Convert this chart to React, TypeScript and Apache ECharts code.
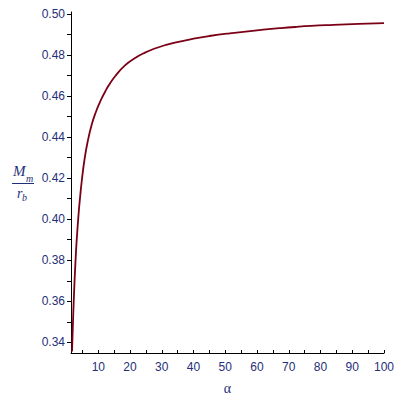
import React, { useEffect, useRef } from "react";
import * as echarts from "echarts";

const alphaValues = [1.73, 1.95, 2.36, 2.77, 3.2, 3.84, 4.25, 4.78, 5.6, 6.67, 8.0, 9.3, 10.3, 11.1, 12.2, 13.2, 15.3, 18.4, 21.6, 24.7, 27.8, 31, 34.1, 40, 45, 51.4, 61.9, 67, 72, 77, 84, 92, 100];
const ratioValues = [0.3355, 0.3466, 0.364, 0.378, 0.39, 0.4035, 0.4105, 0.4185, 0.4285, 0.438, 0.4465, 0.4525, 0.4563, 0.459, 0.4623, 0.465, 0.4697, 0.475, 0.4786, 0.4812, 0.4832, 0.4848, 0.4861, 0.488, 0.4893, 0.4906, 0.4924, 0.4931, 0.4937, 0.4942, 0.4947, 0.4952, 0.4956];

const xTickLabels = [10, 20, 30, 40, 50, 60, 70, 80, 90, 100];
const xTicks = [5, 10, 15, 20, 25, 30, 35, 40, 45, 50, 55, 60, 65, 70, 75, 80, 85, 90, 95, 100];
const yTickLabels = [0.34, 0.36, 0.38, 0.4, 0.42, 0.44, 0.46, 0.48, 0.5];
const yTicks = [0.34, 0.35, 0.36, 0.37, 0.38, 0.39, 0.4, 0.41, 0.42, 0.43, 0.44, 0.45, 0.46, 0.47, 0.48, 0.49, 0.5];

const labelColor = "#1f2f78";
const curveColor = "#7a0016";

export default function App() {
  const ref = useRef<HTMLDivElement>(null);
  useEffect(() => {
    if (!ref.current) return;
    const chart = echarts.init(ref.current, undefined, { renderer: "svg" });
    const data = alphaValues.map((a, i) => [a, ratioValues[i]]);
    chart.setOption({
      animation: false,
      backgroundColor: "#ffffff",
      grid: { left: 71, right: 16, top: 12, bottom: 42, containLabel: false },
      xAxis: {
        type: "value",
        min: 1.4,
        max: 100,
        splitLine: { show: false },
        axisLine: { show: true, onZero: false, lineStyle: { color: "#000", width: 1 } },
        axisTick: { show: true, inside: true, length: 3, customValues: xTicks, lineStyle: { color: "#000" } },
        axisLabel: {
          customValues: xTickLabels,
          color: labelColor,
          fontFamily: "Liberation Sans",
          fontSize: 12,
          margin: 8,
          formatter: (v: number) => String(Math.round(v)),
        },
        name: "α",
        nameLocation: "middle",
        nameGap: 28,
        nameTextStyle: { color: labelColor, fontFamily: "Liberation Serif", fontSize: 14 },
      },
      yAxis: {
        type: "value",
        min: 0.3348,
        max: 0.501,
        splitLine: { show: false },
        axisLine: { show: true, onZero: false, lineStyle: { color: "#000", width: 1 } },
        axisTick: { show: true, inside: false, length: 4, customValues: yTicks, lineStyle: { color: "#000" } },
        axisLabel: {
          customValues: yTickLabels,
          color: labelColor,
          fontFamily: "Liberation Sans",
          fontSize: 12,
          margin: 6,
          formatter: (v: number) => v.toFixed(2),
        },
      },
      graphic: [
        { type: "text", left: 13, top: 163, style: { text: "M", fill: labelColor, font: "italic 15px 'Liberation Serif'" } },
        { type: "text", left: 26, top: 173, style: { text: "m", fill: labelColor, font: "italic 10px 'Liberation Serif'" } },
        { type: "line", shape: { x1: 12, y1: 183.5, x2: 34, y2: 183.5 }, style: { stroke: labelColor, lineWidth: 1 } },
        { type: "text", left: 17, top: 186, style: { text: "r", fill: labelColor, font: "italic 14px 'Liberation Serif'" } },
        { type: "text", left: 22, top: 192, style: { text: "b", fill: labelColor, font: "italic 10px 'Liberation Serif'" } },
      ],
      series: [
        {
          type: "line",
          data,
          showSymbol: false,
          smooth: 0.5,
          lineStyle: { color: curveColor, width: 1.8 },
          itemStyle: { color: curveColor },
        },
      ],
    });
    return () => chart.dispose();
  }, []);
  return <div ref={ref} style={{ position: "fixed", left: 0, top: 0, width: 400, height: 400 }} />;
}
